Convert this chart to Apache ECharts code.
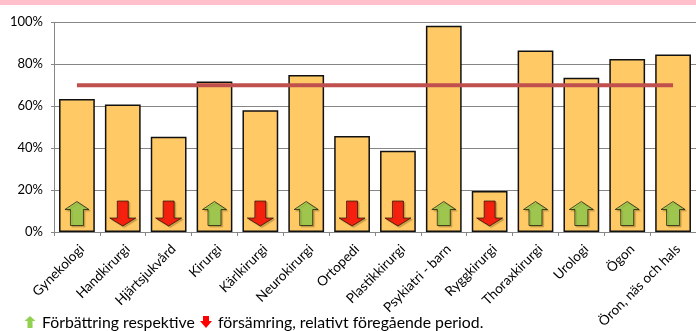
<!DOCTYPE html>
<html><head><meta charset="utf-8">
<script src="https://cdn.jsdelivr.net/npm/echarts@6/dist/echarts.min.js"></script>
<style>html,body{margin:0;padding:0;background:#fff}#c{width:696px;height:331px}</style>
</head><body><div id="c"></div>
<script>
var categories = ['Gynekologi','Handkirurgi','Hjärtsjukvård','Kirurgi','Kärlkirurgi','Neurokirurgi','Ortopedi','Plastikkirurgi','Psykiatri - barn','Ryggkirurgi','Thoraxkirurgi','Urologi','Ögon','Öron, näs och hals'];
var values = [63.4, 60.8, 45.4, 71.8, 58.0, 74.9, 45.8, 38.7, 98.3, 19.5, 86.5, 73.5, 82.5, 84.6];
var target = [70,70,70,70,70,70,70,70,70,70,70,70,70,70];
var trend = ['up','down','down','up','down','up','down','down','up','down','up','up','up','up'];
var yTicks = [0,20,40,60,80,100];
var footText1 = 'Förbättring respektive';
var footText2 = 'försämring, relativt föregående period.';

var ARROW_Y = 8.8;
var upPath = 'path://M12,0 L24,8 L18.5,8 L18.5,24 L5.5,24 L5.5,8 L0,8 Z';
var downPath = 'path://M7.5,0 L18.5,0 L18.5,17 L26,17 L13,25 L0,17 L7.5,17 Z';
var upData = [], downData = [];
categories.forEach(function(c,i){
  if (trend[i]==='up') upData.push([c, ARROW_Y]); else downData.push([c, ARROW_Y]);
});
var FONT = 'Lato';
var chart = echarts.init(document.getElementById('c'), null, {renderer:'canvas'});
chart.setOption({
  animation:false,
  textStyle:{fontFamily:FONT},
  grid:{left:54, top:22.3, width:651, height:211},
  xAxis:{type:'category', data:categories,
    axisLine:{lineStyle:{color:'#868686', width:1}},
    axisTick:{show:true, length:4, lineStyle:{color:'#868686'}},
    axisLabel:{rotate:45, interval:0, color:'#000', fontSize:13.5, fontFamily:FONT, margin:10, verticalAlign:'top'}
  },
  yAxis:{type:'value', min:yTicks[0], max:yTicks[yTicks.length-1], interval:20,
    axisLine:{show:true, lineStyle:{color:'#868686'}},
    axisTick:{show:true, length:3, lineStyle:{color:'#868686'}},
    splitLine:{lineStyle:{color:'#868686', width:1}},
    axisLabel:{formatter:'{value}%', color:'#000', fontSize:13, fontFamily:FONT, margin:11}
  },
  series:[
    {type:'bar', data:values, barCategoryGap:'22%',
      itemStyle:{color:'#FFCA66', borderColor:'#111', borderWidth:1.5}},
    {type:'line', data:target, showSymbol:false, symbol:'none', z:5,
      lineStyle:{color:'#C0504D', width:4}},
    {type:'scatter', data:upData, symbol:upPath, symbolSize:[24,24], z:6,
      itemStyle:{color:'#92D050', borderColor:'#000', borderWidth:0.8,
        shadowColor:'rgba(80,60,0,0.35)', shadowBlur:1, shadowOffsetX:1.5, shadowOffsetY:1.5}},
    {type:'scatter', data:downData, symbol:downPath, symbolSize:[26,25], z:6,
      itemStyle:{color:'#FF0000', borderColor:'#000', borderWidth:0.8,
        shadowColor:'rgba(80,60,0,0.35)', shadowBlur:1, shadowOffsetX:1.5, shadowOffsetY:1.5}}
  ],
  graphic:[
    {type:'rect', left:0, top:0, shape:{width:696, height:5}, style:{fill:'#FFC0CB'}, z:10},
    {type:'polygon', shape:{points:[[30,316],[35.5,321],[32.5,321],[32.5,328],[27.5,328],[27.5,321],[24.5,321]]}, style:{fill:'#92D050'}},
    {type:'text', left:42, top:315, style:{text:footText1, font:'15.8px '+FONT, fill:'#000'}},
    {type:'polygon', shape:{points:[[203,316],[209,316],[209,321],[212,321],[206,328],[200,321],[203,321]]}, style:{fill:'#FF0000'}},
    {type:'text', left:218, top:315, style:{text:footText2, font:'15.8px '+FONT, fill:'#000'}}
  ]
});
</script></body></html>
